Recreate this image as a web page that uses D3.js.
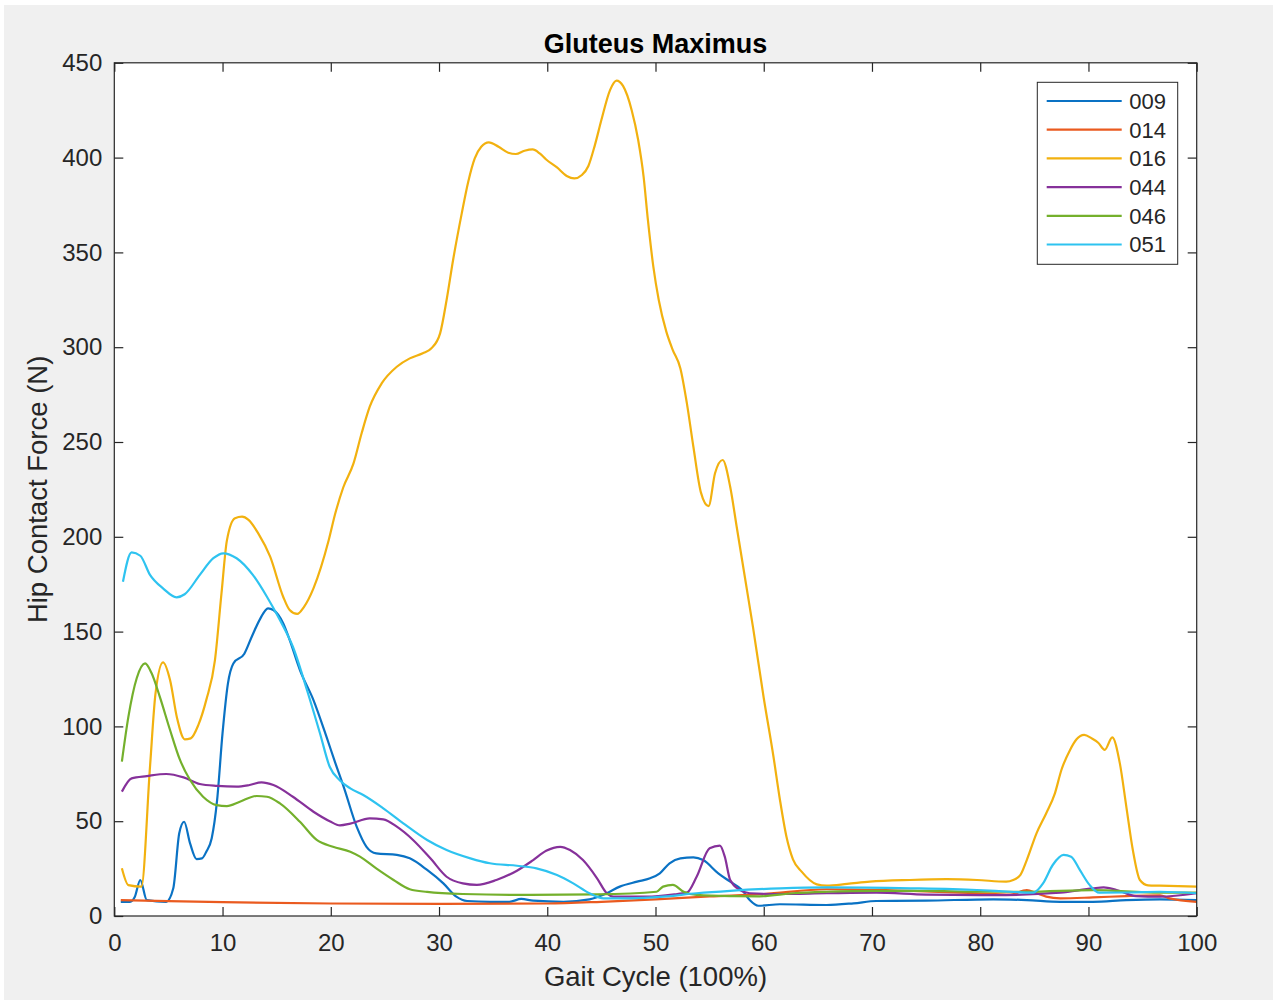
<!DOCTYPE html>
<html>
<head>
<meta charset="utf-8">
<script src="https://cdn.jsdelivr.net/npm/d3@7"></script>
<style>
  body { margin: 0; background: #fff; }
  svg text { font-family: "Liberation Sans", Arial, Helvetica, sans-serif; fill: #262626; }
</style>
</head>
<body>
<svg id="chart" width="1277" height="1003"></svg>
<script>
// series labels and colours (legend order)
const seriesNames = ['009', '014', '016', '044', '046', '051'];
const seriesColors = ['#0a72c4', '#ea5a1f', '#f2b10f', '#86319a', '#74b02c', '#2ec3f0'];

// gait cycle (%) vs hip contact force (N)
const s009 = [[0.6,7.5],[1.45,7.5],[1.9,10.2],[2.4,19],[3.0,8.4],[4.8,7.5],[5.45,14.6],[6.0,43.6],[6.45,49.7],[7.0,38.3],[7.6,30],[8.1,30.4],[8.5,33.9],[9.0,41],[9.5,61.2],[10.0,96.4],[10.5,122.7],[11.0,133.2],[12.0,138.2],[12.7,147.3],[13.5,157],[14.2,162.3],[14.7,161.4],[15.6,154.4],[16.2,145.6],[17.15,129.7],[18.4,113.9],[19.6,94.6],[20.4,81],[21.2,68],[22.4,47],[23.3,36.5],[24.2,33],[26.1,32.2],[27.3,30.4],[28.9,24.3],[30.4,17.2],[31.6,10.2],[32.6,7.9],[34.7,7.5],[36.5,7.5],[37.6,9],[38.7,8.1],[41.5,7.5],[43.9,8.8],[45.5,12],[46.7,15.5],[48.3,18.1],[49.5,19.9],[50.4,22.5],[51.3,27.8],[52.3,30.4],[53.5,30.9],[54.4,29.5],[55.8,22.5],[56.9,18.1],[58.0,13.7],[58.7,8.4],[59.5,5.4],[61.5,6.2],[65.8,5.8],[68.3,6.7],[70.4,7.9],[75,8.1],[81.2,8.8],[84.3,8.4],[87.4,7.5],[90.4,7.5],[93.5,8.4],[96.6,8.8],[100,8.4]];
const s014 = [[0.6,8.4],[5,7.8],[10,7.3],[20,6.6],[30,6.4],[40,6.6],[45,7.5],[50,8.8],[55,10.3],[60,11.6],[65.8,14.1],[73.6,13.3],[79.7,12],[82.8,11.3],[84.3,13.7],[85.2,12],[86.1,10.2],[87.4,9.3],[90.4,9.8],[93.5,10.5],[96.6,10.9],[97.5,9.3],[100,7.5]];
const s016 = [[0.7,25.2],[1.3,16.3],[2.5,15.5],[3.3,78.8],[3.8,117],[4.5,133.8],[5.15,124.5],[5.8,104.3],[6.5,93.2],[7.06,93.7],[7.76,100.7],[8.5,114],[9.3,135],[9.9,170],[10.4,198],[11.15,209.8],[11.8,210.6],[12.4,208.9],[13.3,201.8],[14.4,189.5],[15.6,168.4],[16.2,161.4],[16.9,159.3],[17.5,162.8],[18.4,172.8],[19.8,198],[20.4,212],[21.15,226],[22.1,238.7],[22.85,254.6],[23.6,268.6],[24.7,280.9],[26.1,289.7],[27.3,294.1],[28.5,296.8],[29.3,299.4],[30.1,307.3],[30.7,324.9],[31.3,346],[32.1,370.6],[32.7,387.3],[33.3,399.6],[33.9,405.7],[34.6,408],[35.5,405.7],[36.4,402.6],[37.1,401.9],[37.9,403.6],[38.65,404.3],[39.3,402.2],[39.9,399],[40.9,394.8],[41.8,390.3],[42.5,389],[43.2,390.8],[43.8,395.6],[44.4,406.6],[45.0,419.8],[45.8,435.6],[46.4,440.6],[47.0,437.8],[47.8,425],[48.4,409.3],[48.9,390],[49.3,367],[49.8,342.5],[50.3,324.9],[51.0,308.2],[51.6,298.5],[52.3,288.8],[52.9,270.4],[53.5,247.5],[54.2,223.3],[54.9,216.2],[55.5,233.5],[56.2,240.5],[56.9,226.4],[57.5,205.3],[58.3,177.2],[59.0,152.6],[60.0,115],[60.9,84],[61.5,61.2],[62.1,41.8],[62.7,29.9],[63.5,23.4],[64.9,16.7],[65.8,16],[67.7,16.9],[69.8,18.1],[73.5,19],[76.9,19.4],[79.7,19],[82.4,18.1],[83.05,19],[83.7,21.6],[84.3,29.5],[85.2,43.6],[86.1,54.2],[86.9,64.7],[87.5,77],[88.3,87.6],[88.9,93.2],[89.6,95.5],[90.3,93.7],[90.9,91.4],[91.5,87.6],[92.2,94.2],[92.9,80.5],[93.5,57.6],[94.1,34.8],[94.75,19],[95.5,16.2],[96.6,16],[100,15.5]];
const s044 = [[0.7,65.6],[1.6,72.6],[3.0,73.8],[4.8,74.9],[6.4,73.1],[7.9,69.6],[9.5,68.6],[11.3,68.2],[12.5,69.1],[13.6,70.5],[14.7,69.1],[16.5,62.9],[18.4,55],[19.9,50],[20.85,47.8],[21.8,48.7],[23.6,51.5],[24.85,51],[26.1,47.1],[27.6,40.1],[29.2,30.4],[30.7,20.7],[32.2,17.2],[33.5,16.4],[35.3,19],[37.2,23.9],[38.7,29.5],[39.9,34.4],[41.2,36.5],[42.1,34.8],[43.3,29.5],[44.6,19.9],[45.5,12],[46.1,10.2],[49.2,10.2],[52.0,11.6],[52.9,12.3],[53.8,20.7],[55.0,35.7],[55.95,37.1],[56.4,31.3],[56.9,19],[57.8,13.7],[58.7,12],[61.5,11.6],[65.8,12],[70.4,12.3],[75,11.3],[81.2,11],[87.4,12.3],[90.4,14.6],[91.4,15.1],[92.6,13.7],[94.4,10.5],[96.6,10.2],[100,12]];
const s046 = [[0.7,81.4],[1.3,105],[2.07,125.4],[2.84,133.2],[3.45,128],[4.2,115.7],[5.15,98.1],[6.07,82.3],[7.0,71.7],[8.2,62.9],[9.46,58.5],[10.4,58],[11.6,60.3],[13.15,63.3],[14.1,62.9],[15.3,59.4],[17.15,49.7],[18.7,40.1],[20.2,36.5],[21.8,33.9],[22.7,31.3],[24.2,25.1],[25.8,19],[27.3,14.1],[28.9,12.7],[32.2,11.6],[38.4,11.1],[44.6,11.4],[50.1,12.8],[50.7,15.5],[51.6,16.4],[52.6,12.8],[53.8,11.1],[56.9,10.5],[59.6,10.4],[62.7,12],[65.8,12.8],[70.4,13.3],[75,13.3],[79.7,12.8],[84.3,12.8],[90.4,13.7],[96.6,12.3],[100,12.3]];
const s051 = [[0.8,176.3],[1.6,191.8],[2.4,190],[3.3,179.9],[4.5,172.8],[5.76,168.1],[6.5,169.7],[7.9,179.9],[9.15,188.7],[10.07,191.3],[11.3,188.7],[12.8,179.9],[14.1,168.4],[15.3,156.1],[16.5,142],[17.8,119.2],[19.0,96.4],[19.9,78.7],[20.85,71.5],[21.8,67.3],[23.0,63.8],[24.85,56.8],[26.7,48.9],[28.9,40.1],[30.7,34.8],[32.9,30.4],[34.7,27.8],[37.2,26.5],[39.0,25.1],[40.9,21.6],[42.4,17.2],[43.9,12],[45.2,9.3],[47.6,9.3],[50.7,10.2],[53.8,12],[56.9,13.3],[61.5,14.6],[65.8,15.1],[73.6,14.6],[79.7,13.7],[82.8,12.8],[84.9,12.3],[85.8,17.2],[86.7,26.9],[87.7,32.2],[88.4,31.3],[89.2,24.3],[90.1,16.4],[91.0,12.3],[93.5,12.4],[96.6,12.8],[100,12]];

const xTicks = [0, 10, 20, 30, 40, 50, 60, 70, 80, 90, 100];
const yTicks = [0, 50, 100, 150, 200, 250, 300, 350, 400, 450];

const allSeries = [s009, s014, s016, s044, s046, s051];

const svg = d3.select('#chart');
const margin = { left: 114.3, right: 1196.7, top: 62.8, bottom: 916 };

// figure background
svg.append('rect')
  .attr('x', 4).attr('y', 5)
  .attr('width', 1269).attr('height', 995)
  .attr('fill', '#f0f0f0');

svg.append('rect')
  .attr('x', margin.left).attr('y', margin.top)
  .attr('width', margin.right - margin.left)
  .attr('height', margin.bottom - margin.top)
  .attr('fill', '#fff');

const x = d3.scaleLinear().domain([0, 100]).range([margin.left, margin.right]);
const y = d3.scaleLinear().domain([0, 450]).range([margin.bottom, margin.top]);

// lines
const line = d3.line()
  .x(d => x(d[0]))
  .y(d => y(d[1]))
  .curve(d3.curveMonotoneX);

svg.append('g')
  .selectAll('path')
  .data(allSeries)
  .enter()
  .append('path')
  .attr('d', line)
  .attr('fill', 'none')
  .attr('stroke', (d, i) => seriesColors[i])
  .attr('stroke-width', 2.2)
  .attr('stroke-linejoin', 'round');

// axes, MATLAB style ticks pointing in
const styleAxis = g => {
  g.select('.domain').remove();
  g.selectAll('.tick line').attr('stroke', '#262626').attr('stroke-width', 1.2);
  g.selectAll('.tick text').attr('fill', '#262626').style('font-size', '24px').style('font-family', '"Liberation Sans", Arial, sans-serif');
};

svg.append('g')
  .attr('transform', 'translate(0,' + margin.bottom + ')')
  .call(d3.axisBottom(x).tickValues(xTicks).tickSize(-9).tickPadding(12).tickFormat(d3.format('d')))
  .call(styleAxis)
  .selectAll('.tick text').attr('dy', '0.72em').attr('y', 18);

svg.append('g')
  .attr('transform', 'translate(0,' + margin.top + ')')
  .call(d3.axisTop(x).tickValues(xTicks).tickSize(-9).tickFormat(''))
  .call(styleAxis);

svg.append('g')
  .attr('transform', 'translate(' + margin.left + ',0)')
  .call(d3.axisLeft(y).tickValues(yTicks).tickSize(-9).tickPadding(12).tickFormat(d3.format('d')))
  .call(styleAxis);

svg.append('g')
  .attr('transform', 'translate(' + margin.right + ',0)')
  .call(d3.axisRight(y).tickValues(yTicks).tickSize(-9).tickFormat(''))
  .call(styleAxis);

// box
svg.append('rect')
  .attr('x', margin.left).attr('y', margin.top)
  .attr('width', margin.right - margin.left)
  .attr('height', margin.bottom - margin.top)
  .attr('fill', 'none')
  .attr('stroke', '#262626')
  .attr('stroke-width', 1.2);

// title and labels
svg.append('text')
  .attr('x', (margin.left + margin.right) / 2)
  .attr('y', 53)
  .attr('text-anchor', 'middle')
  .style('font-size', '27px')
  .style('font-weight', 'bold')
  .style('fill', '#000')
  .text('Gluteus Maximus');

svg.append('text')
  .attr('x', (margin.left + margin.right) / 2)
  .attr('y', 986)
  .attr('text-anchor', 'middle')
  .style('font-size', '27.5px')
  .text('Gait Cycle (100%)');

svg.append('text')
  .attr('transform', 'translate(47,' + (margin.top + margin.bottom) / 2 + ') rotate(-90)')
  .attr('text-anchor', 'middle')
  .style('font-size', '27.5px')
  .text('Hip Contact Force (N)');

// legend
const legend = svg.append('g');
legend.append('rect')
  .attr('x', 1037.3).attr('y', 82.3)
  .attr('width', 140.4).attr('height', 182)
  .attr('fill', '#fff')
  .attr('stroke', '#262626')
  .attr('stroke-width', 1);

const item = legend.selectAll('.item')
  .data(seriesNames)
  .enter()
  .append('g')
  .attr('class', 'item')
  .attr('transform', (d, i) => 'translate(0,' + (101 + i * 28.7) + ')');

item.append('line')
  .attr('x1', 1046.7).attr('x2', 1121.7)
  .attr('stroke', (d, i) => seriesColors[i])
  .attr('stroke-width', 2.2);

item.append('text')
  .attr('x', 1129.3)
  .attr('dy', '0.36em')
  .style('font-size', '22px')
  .text(d => d);
</script>
</body>
</html>
